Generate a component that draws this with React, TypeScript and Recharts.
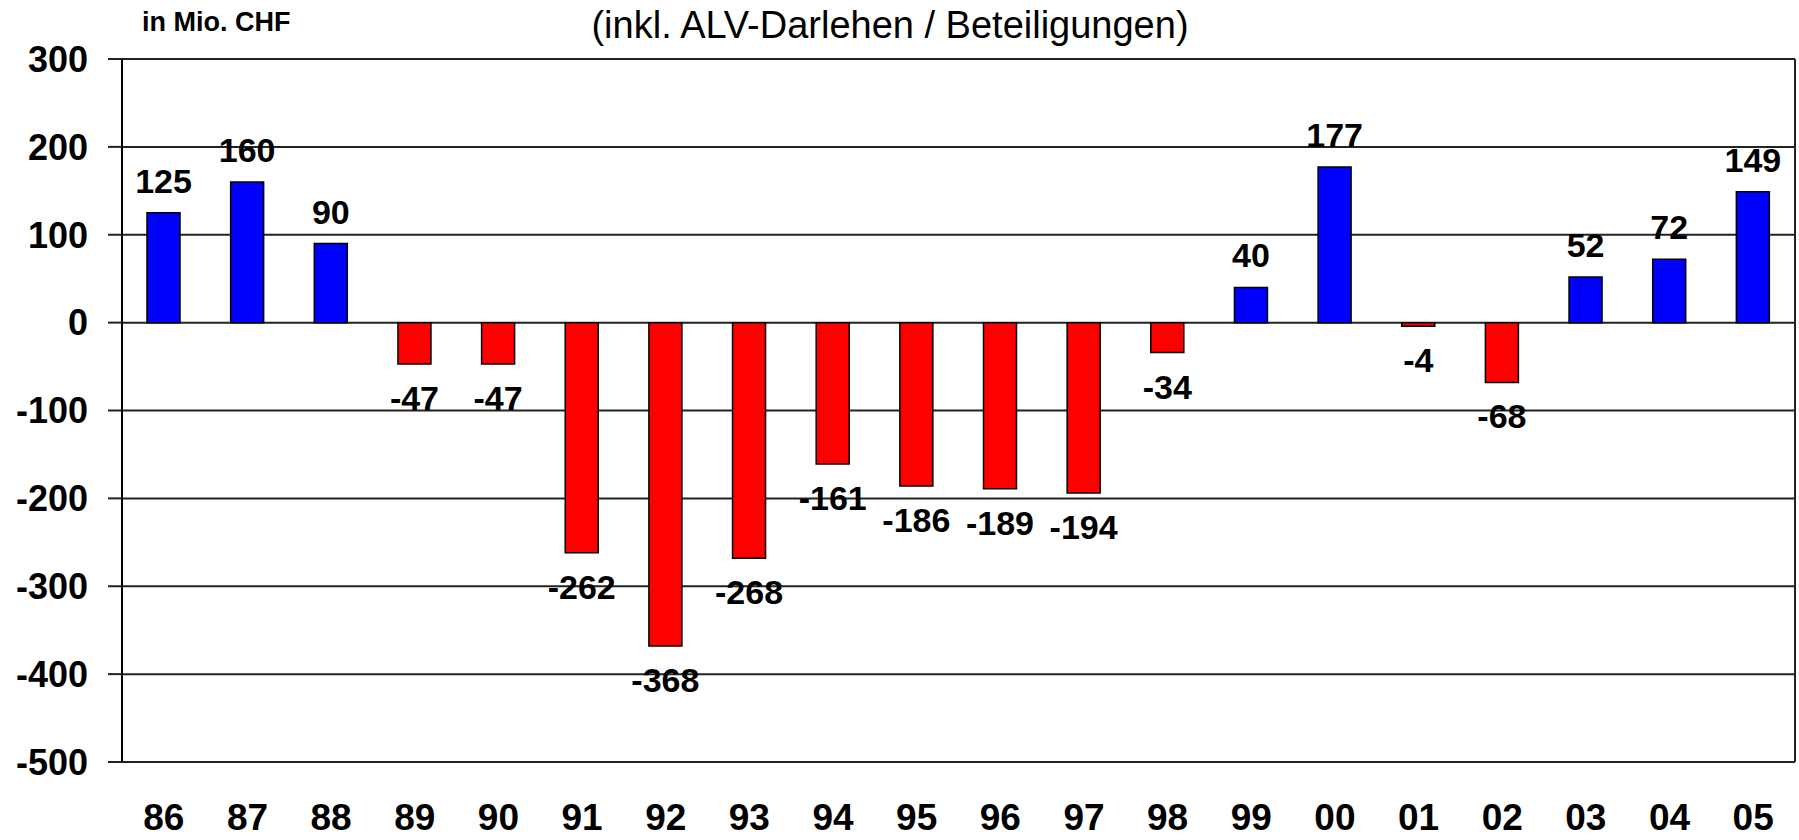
import React from 'react';
import {
  BarChart,
  Bar,
  Cell,
  XAxis,
  YAxis,
  CartesianGrid,
  LabelList,
} from 'recharts';

const years = ['86', '87', '88', '89', '90', '91', '92', '93', '94', '95', '96', '97', '98', '99', '00', '01', '02', '03', '04', '05'];
const saldo = [125, 160, 90, -47, -47, -262, -368, -268, -161, -186, -189, -194, -34, 40, 177, -4, -68, 52, 72, 149];
const yTicks = [300, 200, 100, 0, -100, -200, -300, -400, -500];

const data = years.map((year, i) => ({ year, value: saldo[i] }));

const FONT = '"Liberation Sans", Arial, sans-serif';

// value labels: above positive bars, below negative ones
const ValueLabel = (props: any) => {
  const { x, y, width, height, value } = props;
  const top = Math.min(y, y + height);
  const bottom = Math.max(y, y + height);
  const cx = x + width / 2;
  const ty = value >= 0 ? top - 20 : bottom + 46;
  return (
    <text
      x={cx}
      y={ty}
      textAnchor="middle"
      fontFamily={FONT}
      fontWeight="bold"
      fontSize={34}
      fill="#000"
    >
      {value}
    </text>
  );
};

const App: React.FC = () => {
  return (
    <div style={{ position: 'absolute', left: 0, top: 0, width: 1799, height: 840, background: '#fff' }}>
      <BarChart
        width={1799}
        height={840}
        data={data}
        margin={{ top: 59, right: 0, bottom: 0, left: 0 }}
      >
        <CartesianGrid vertical={false} stroke="#222" strokeWidth={2} />
        <XAxis
          dataKey="year"
          interval={0}
          axisLine={false}
          tickLine={false}
          tickSize={0}
          tickMargin={42}
          height={78}
          tick={{ fontSize: 37, fontWeight: 'bold', fill: '#000', fontFamily: FONT }}
        />
        <YAxis
          domain={[-500, 300]}
          ticks={yTicks}
          interval={0}
          width={122}
          axisLine={{ stroke: '#000', strokeWidth: 2 }}
          tickLine={{ stroke: '#222', strokeWidth: 2 }}
          tickSize={14}
          tickMargin={20}
          tick={{ fontSize: 36, fontWeight: 'bold', fill: '#000', fontFamily: FONT }}
        />
        <YAxis
          yAxisId="r"
          orientation="right"
          domain={[-500, 300]}
          width={4}
          tick={false}
          tickLine={false}
          axisLine={{ stroke: '#222', strokeWidth: 2 }}
        />
        <Bar dataKey="value" barSize={33} stroke="#000" strokeWidth={1.5} isAnimationActive={false}>
          {data.map((d) => (
            <Cell key={d.year} fill={d.value >= 0 ? '#0000FF' : '#FF0000'} />
          ))}
          <LabelList dataKey="value" content={ValueLabel} />
        </Bar>
      </BarChart>
      <svg
        width={1799}
        height={840}
        style={{ position: 'absolute', left: 0, top: 0, pointerEvents: 'none' }}
      >
        <text x={142} y={31} fontFamily={FONT} fontWeight="bold" fontSize={27} fill="#000">
          in Mio. CHF
        </text>
        <text x={890} y={38} textAnchor="middle" fontFamily={FONT} fontSize={38} fill="#000">
          (inkl. ALV-Darlehen / Beteiligungen)
        </text>
      </svg>
    </div>
  );
};

export default App;
